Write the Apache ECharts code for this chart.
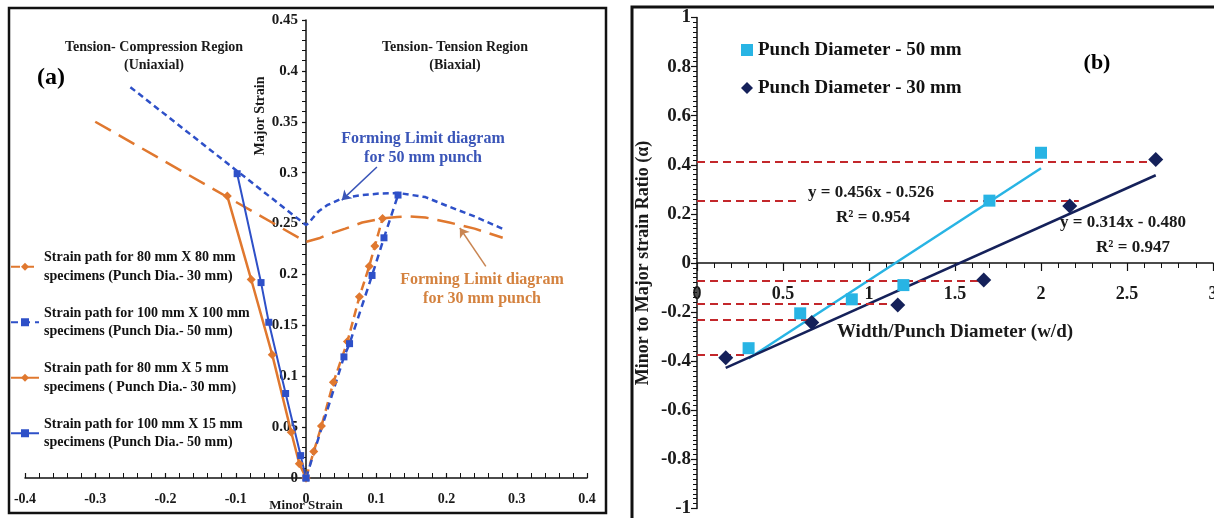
<!DOCTYPE html>
<html>
<head>
<meta charset="utf-8">
<script src="https://cdn.jsdelivr.net/npm/echarts@6/dist/echarts.min.js"></script>
<style>
  html, body { margin: 0; padding: 0; background: #fff; }
  #chart { width: 1214px; height: 518px; }
</style>
</head>
<body>
<div id="chart"></div>
<script>
// ---------- Panel (a): strain paths and forming limit curves (minor strain, major strain) ----------
const path80x80   = [[0,0],[0.011,0.026],[0.022,0.051],[0.039,0.094],[0.059,0.134],[0.076,0.178],[0.090,0.208],[0.098,0.228],[0.109,0.255]];
const path100x100 = [[0,0],[0.054,0.119],[0.062,0.132],[0.094,0.199],[0.111,0.236],[0.131,0.278]];
const path80x5    = [[0,0],[-0.0095,0.014],[-0.021,0.045],[-0.048,0.121],[-0.078,0.195],[-0.112,0.277]];
const path100x15  = [[0,0],[-0.0076,0.022],[-0.029,0.083],[-0.053,0.153],[-0.064,0.192],[-0.098,0.299]];
const fld30 = [[-0.3,0.35],[0,0.232],[0.0185,0.2355],[0.03,0.239],[0.056,0.245],[0.08,0.251],[0.108,0.255],[0.13,0.2565],[0.147,0.257],[0.17,0.256],[0.204,0.251],[0.24,0.245],[0.28,0.236]];
const fld50 = [[-0.25,0.384],[0,0.2485],[0.004,0.2505],[0.009,0.255],[0.018,0.262],[0.03,0.268],[0.052,0.275],[0.08,0.278],[0.105,0.2795],[0.132,0.280],[0.17,0.276],[0.204,0.2665],[0.24,0.257],[0.284,0.2436]];
const pathNames = [
  'Strain path for 80 mm X 80 mm\nspecimens (Punch Dia.- 30 mm)',
  'Strain path for 100 mm X 100 mm\nspecimens (Punch Dia.- 50 mm)',
  'Strain path for 80 mm X 5 mm\nspecimens ( Punch Dia.- 30 mm)',
  'Strain path for 100 mm X 15 mm\nspecimens (Punch Dia.- 50 mm)'
];
// callout arrows: [from, to] in (minor, major) strain
const arrow50 = [[0.101,0.3055],[0.051,0.273]];
const arrow30 = [[0.256,0.208],[0.219,0.2456]];

// ---------- Panel (b): strain ratio vs width / punch diameter ----------
const wd50 = [0.3, 0.6, 0.9, 1.2, 1.7, 2.0];
const alpha50 = [-0.347, -0.205, -0.148, -0.09, 0.254, 0.449];
const wd30 = [0.167, 0.667, 1.167, 1.667, 2.167, 2.667];
const alpha30 = [-0.386, -0.242, -0.171, -0.069, 0.232, 0.422];
const fitSlope = [0.456, 0.314];
const fitIntercept = [-0.526, -0.480];
const fitR2 = ['0.954', '0.947'];
const refY = [0.413, 0.252, -0.073, -0.165, -0.233, -0.375];
const refXEnd = [2.667, 2.22, 1.667, 1.167, 0.667, 0.3];
const punchNames = ['Punch Diameter - 50 mm', 'Punch Diameter - 30 mm'];

const SERIF = "'Liberation Serif','Times New Roman',serif";
const ORANGE = '#E0782F', BLUE = '#2E50C8', CYAN = '#28B4E4', NAVY = '#15215A', RED = '#C3272B';

// grid boxes (pixels)
const GA = { left: 25, top: 20, width: 562, height: 458 };
const GB = { left: 697, top: 17.5, width: 516, height: 491 };

const zip = (xs, ys) => xs.map((x, i) => [x, ys[i]]);
const fitLine = (xs, k) => [xs[0], xs[xs.length - 1]].map(x => [x, fitSlope[k] * x + fitIntercept[k]]);
const eqText = k => 'y = ' + fitSlope[k].toFixed(3) + 'x - ' + Math.abs(fitIntercept[k]).toFixed(3);

const txt = (text, x, y, size, fill, extra) => Object.assign({
  type: 'text', x: x, y: y, z: 100,
  style: { text: text, fill: fill || '#1a1a1a', font: 'bold ' + size + 'px ' + SERIF, align: 'center', verticalAlign: 'middle' }
}, extra || {});

const chart = echarts.init(document.getElementById('chart'), null, { renderer: 'canvas' });

const axisBase = {
  type: 'value',
  splitLine: { show: false },
  nameMoveOverlap: false,
  axisLine: { show: true, onZero: false, lineStyle: { color: '#111', width: 1.5 } },
  axisTick: { show: true, lineStyle: { color: '#111', width: 1.2 } },
  minorTick: { show: true, lineStyle: { color: '#111', width: 1 } }
};

chart.setOption({
  animation: false,
  backgroundColor: '#fff',
  grid: [
    Object.assign({ outerBoundsMode: 'none', containLabel: false }, GA),
    Object.assign({ outerBoundsMode: 'none', containLabel: false }, GB)
  ],
  xAxis: [
    Object.assign({}, axisBase, {
      gridIndex: 0, min: -0.4, max: 0.4, interval: 0.1, position: 'bottom',
      axisTick: { show: true, inside: true, length: 5, lineStyle: { color: '#111', width: 1.2 } },
      minorTick: { show: true, splitNumber: 5, length: 5, lineStyle: { color: '#111', width: 1 } },
      axisLabel: { margin: 14, color: '#1a1a1a', fontFamily: SERIF, fontWeight: 'bold', fontSize: 14 },
      name: 'Minor Strain', nameLocation: 'middle', nameGap: 21,
      nameTextStyle: { color: '#1a1a1a', fontFamily: SERIF, fontWeight: 'bold', fontSize: 13 }
    }),
    Object.assign({}, axisBase, {
      gridIndex: 1, min: 0, max: 3, interval: 0.5, position: 'bottom',
      // axis sits on alpha = 0, halfway up the plot
      offset: -GB.height / 2,
      axisTick: { show: true, length: 8, lineStyle: { color: '#111', width: 1.2 } },
      minorTick: { show: true, splitNumber: 5, length: 5, lineStyle: { color: '#111', width: 1 } },
      axisLabel: { margin: 22, color: '#1a1a1a', fontFamily: SERIF, fontWeight: 'bold', fontSize: 18 },
      name: 'Width/Punch Diameter (w/d)', nameLocation: 'middle', nameGap: 60,
      nameTextStyle: { color: '#1a1a1a', fontFamily: SERIF, fontWeight: 'bold', fontSize: 19 }
    })
  ],
  yAxis: [
    Object.assign({}, axisBase, {
      gridIndex: 0, min: 0, max: 0.45, interval: 0.05, position: 'left',
      // axis sits on minor strain = 0, in the middle of the plot
      offset: -GA.width / 2,
      axisTick: { show: true, length: 4, lineStyle: { color: '#111', width: 1.2 } },
      minorTick: { show: true, splitNumber: 5, length: 4, lineStyle: { color: '#111', width: 1 } },
      axisLabel: { margin: 8, color: '#1a1a1a', fontFamily: SERIF, fontWeight: 'bold', fontSize: 15 }
    }),
    Object.assign({}, axisBase, {
      gridIndex: 1, min: -1, max: 1, interval: 0.2, position: 'left',
      axisTick: { show: true, length: 6, lineStyle: { color: '#111', width: 1.2 } },
      minorTick: { show: true, splitNumber: 10, length: 4, lineStyle: { color: '#111', width: 1 } },
      axisLabel: { margin: 6, color: '#1a1a1a', fontFamily: SERIF, fontWeight: 'bold', fontSize: 19 },
      name: 'Minor to Major strain Ratio (\u03b1)', nameLocation: 'middle', nameGap: 45,
      nameTextStyle: { color: '#1a1a1a', fontFamily: SERIF, fontWeight: 'bold', fontSize: 18 }
    })
  ],
  legend: [
    {
      data: pathNames, orient: 'vertical', left: 10, top: 239, padding: 0,
      itemWidth: 28, itemHeight: 10, itemGap: 0,
      textStyle: { color: '#111', fontFamily: SERIF, fontWeight: 'bold', fontSize: 14, lineHeight: 18.5, padding: [18.5, 0, 0, 0] }
    },
    {
      data: punchNames, orient: 'vertical', left: 741, top: 40, padding: 0,
      itemWidth: 12, itemHeight: 12, itemGap: 18,
      textStyle: { color: '#111', fontFamily: SERIF, fontWeight: 'bold', fontSize: 19, lineHeight: 20 }
    }
  ],
  series: [
    // strain paths
    { name: pathNames[0], type: 'line', xAxisIndex: 0, yAxisIndex: 0, data: path80x80, z: 4,
      symbol: 'diamond', symbolSize: 9, itemStyle: { color: ORANGE },
      lineStyle: { color: ORANGE, width: 2.5, type: [9, 5] } },
    { name: pathNames[1], type: 'line', xAxisIndex: 0, yAxisIndex: 0, data: path100x100, z: 4,
      symbol: 'rect', symbolSize: 7, itemStyle: { color: BLUE },
      lineStyle: { color: BLUE, width: 2.5, type: [7, 5] } },
    { name: pathNames[2], type: 'line', xAxisIndex: 0, yAxisIndex: 0, data: path80x5, z: 4,
      symbol: 'diamond', symbolSize: 9, itemStyle: { color: ORANGE },
      lineStyle: { color: ORANGE, width: 2.5 } },
    { name: pathNames[3], type: 'line', xAxisIndex: 0, yAxisIndex: 0, data: path100x15, z: 4,
      symbol: 'rect', symbolSize: 7, itemStyle: { color: BLUE },
      lineStyle: { color: BLUE, width: 2 } },
    // forming limit curves
    { name: 'FLD 30 mm', type: 'line', xAxisIndex: 0, yAxisIndex: 0, data: fld30, z: 3,
      showSymbol: false, symbol: 'none',
      lineStyle: { color: ORANGE, width: 2.5, type: [18, 9] },
      markLine: { silent: true, symbol: ['none', 'arrow'], symbolSize: 9, label: { show: false },
        lineStyle: { color: '#C98552', width: 1.5, type: 'solid' },
        data: [[{ coord: arrow30[0] }, { coord: arrow30[1] }]] } },
    { name: 'FLD 50 mm', type: 'line', xAxisIndex: 0, yAxisIndex: 0, data: fld50, z: 3,
      showSymbol: false, symbol: 'none',
      lineStyle: { color: BLUE, width: 2.5, type: [6, 4] },
      markLine: { silent: true, symbol: ['none', 'arrow'], symbolSize: 9, label: { show: false },
        lineStyle: { color: '#3A55B8', width: 1.5, type: 'solid' },
        data: [[{ coord: arrow50[0] }, { coord: arrow50[1] }]] } },
    // panel (b)
    { name: 'fit 50', type: 'line', xAxisIndex: 1, yAxisIndex: 1, data: fitLine(wd50, 0), z: 2,
      symbol: 'none', lineStyle: { color: CYAN, width: 2.5 },
      markLine: { silent: true, symbol: 'none', label: { show: false },
        lineStyle: { color: RED, width: 2, type: [8, 5] },
        data: refY.map((y, i) => [{ coord: [0, y] }, { coord: [refXEnd[i], y] }]) } },
    { name: 'fit 30', type: 'line', xAxisIndex: 1, yAxisIndex: 1, data: fitLine(wd30, 1), z: 2,
      symbol: 'none', lineStyle: { color: NAVY, width: 2.5 } },
    { name: punchNames[0], type: 'scatter', xAxisIndex: 1, yAxisIndex: 1, data: zip(wd50, alpha50), z: 5,
      symbol: 'rect', symbolSize: 12, itemStyle: { color: CYAN, opacity: 1 } },
    { name: punchNames[1], type: 'scatter', xAxisIndex: 1, yAxisIndex: 1, data: zip(wd30, alpha30), z: 5,
      symbol: 'diamond', symbolSize: 15, itemStyle: { color: NAVY, opacity: 1 } }
  ],
  graphic: [
    { type: 'rect', z: 100, shape: { x: 9, y: 8, width: 597, height: 505 },
      style: { fill: 'none', stroke: '#111', lineWidth: 2.5 } },
    { type: 'rect', z: 100, shape: { x: 632, y: 7, width: 600, height: 530 },
      style: { fill: 'none', stroke: '#111', lineWidth: 3 } },
    txt('Tension- Compression Region', 154, 47, 14),
    txt('(Uniaxial)', 154, 65, 14),
    txt('Tension- Tension Region', 455, 47, 14),
    txt('(Biaxial)', 455, 65, 14),
    txt('(a)', 51, 78, 24, '#000'),
    txt('Forming Limit diagram', 423, 139, 16, '#3A55B8'),
    txt('for 50 mm punch', 423, 158, 16, '#3A55B8'),
    txt('Forming Limit diagram', 482, 280, 16, '#D4823F'),
    txt('for 30 mm punch', 482, 299, 16, '#D4823F'),
    txt('Major Strain', 260, 116, 14, '#1a1a1a', { rotation: Math.PI / 2 }),
    txt('(b)', 1097, 63, 22, '#000'),
    { type: 'text', x: 871, y: 193, z: 100,
      style: { text: eqText(0), fill: '#1a1a1a', font: 'bold 17px ' + SERIF, align: 'center', verticalAlign: 'middle',
        backgroundColor: '#fff', padding: [1, 8] } },
    txt('R\u00b2 = ' + fitR2[0], 873, 218, 17),
    txt(eqText(1), 1123, 223, 17),
    txt('R\u00b2 = ' + fitR2[1], 1133, 248, 17)
  ]
});
</script>
</body>
</html>
